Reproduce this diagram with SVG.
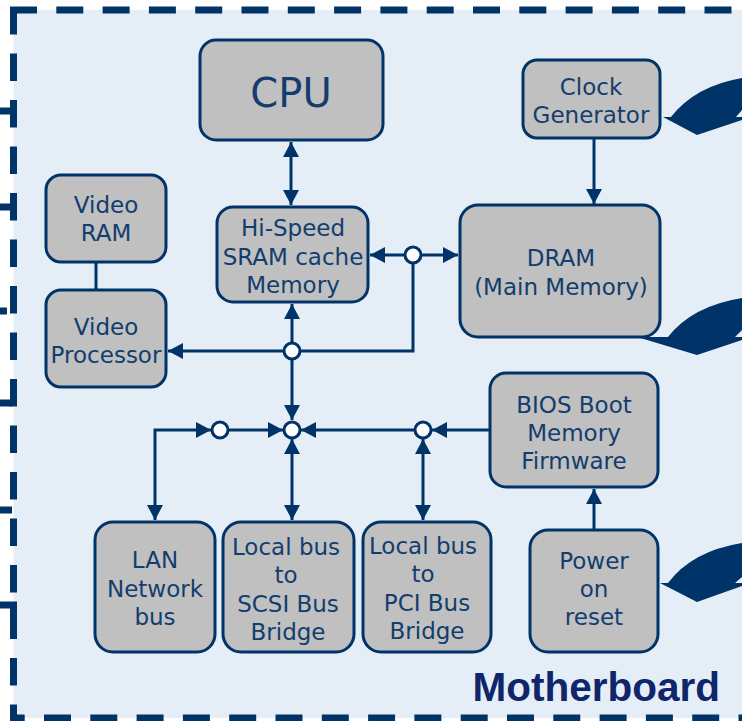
<svg xmlns="http://www.w3.org/2000/svg" width="742" height="721" viewBox="0 0 742 721">
<style>
.node rect{fill:#c0c0c0;stroke:#003468;stroke-width:3}
.node text{font-family:"DejaVu Sans",Verdana,sans-serif;font-size:23px;fill:#123d6e;text-anchor:middle}
.conn path{fill:none;stroke:#003468;stroke-width:3}
.arr{marker-end:url(#ah)}
.arr2{marker-start:url(#ah);marker-end:url(#ah)}
.jn{fill:#fff;stroke:#003468;stroke-width:3}
.swoosh{fill:#003468}
.border{fill:none;stroke:#003468;stroke-width:7}
.tick{stroke:#003468;stroke-width:7;fill:none}
</style>
<defs>
<marker id="ah" viewBox="0 0 15 16" refX="15" refY="8" markerWidth="15" markerHeight="16" orient="auto-start-reverse" markerUnits="userSpaceOnUse">
<path d="M0,0 L15,8 L0,16 z" fill="#003468"/>
</marker>
</defs>
<rect x="0" y="0" width="742" height="721" fill="#ffffff"/>
<g id="frame">
<rect x="13.5" y="10" width="760" height="708" fill="#e5eef7"/>
<path class="border" d="M10,10 H760" stroke-dasharray="27 19.3"/>
<path class="border" d="M13.5,7 V721" stroke-dasharray="27.5 19"/>
<path class="border" d="M10,718 H760" stroke-dasharray="27 19.3" stroke-dashoffset="12.3"/>
<path class="tick" d="M0,111 H14 M0,207 H14 M0,311 H7 M0,403 H12 M0,510 H12"/>
<path class="tick" d="M0,605 H13.5 V620" stroke-linejoin="miter"/>
</g>
<g id="swooshes">
<path class="swoosh" d="M663,117 L671,117 Q695,86 742,78 L742,110 L736,117 L742,117 L742,120 L697,135 Z"/>
<path class="swoosh" d="M637,337 L668,337 Q692,306 742,298 L742,330 L735,337 L742,337 L742,340 L697,355 Z"/>
<path class="swoosh" d="M660,583 L668,583 Q692,551 742,543 L742,577 L735,583 L742,583 L742,586 L697,602 Z"/>
</g>
<g id="connectors" class="conn">
<path class="arr2" d="M291,142 L291,205"/>
<path class="arr" d="M594,139 L594,204"/>
<path d="M96,262 L96,290"/>
<path class="arr" d="M405,255 L370,255"/>
<path class="arr" d="M421,255 L458,255"/>
<path d="M413,263 L413,351 L300,351"/>
<path class="arr" d="M284,351 L168,351"/>
<path class="arr" d="M292,343 L292,304"/>
<path class="arr" d="M292,359 L292,420"/>
<path class="arr2" d="M211,430 L155,430 L155,520"/>
<path class="arr" d="M229,430 L283,430"/>
<path class="arr2" d="M292,439 L292,520"/>
<path class="arr" d="M414,430 L301,430"/>
<path class="arr" d="M489,430 L432,430"/>
<path class="arr2" d="M423,439 L423,520"/>
<path class="arr" d="M594,529 L594,489"/>
<circle class="jn" cx="413" cy="255" r="8"/>
<circle class="jn" cx="292" cy="351" r="8"/>
<circle class="jn" cx="220" cy="430" r="8"/>
<circle class="jn" cx="292" cy="430" r="8"/>
<circle class="jn" cx="423" cy="430" r="8"/>
</g>
<g id="cpu" class="node"><rect x="200" y="40" width="183" height="100" rx="16"/><text x="291" y="107" style="font-size:40px">CPU</text></g>
<g id="clock" class="node"><rect x="523" y="60" width="137" height="78" rx="14"/><text x="591" y="95">Clock</text><text x="591" y="123">Generator</text></g>
<g id="vram" class="node"><rect x="46" y="175" width="120" height="87" rx="15"/><text x="106" y="213">Video</text><text x="106" y="241">RAM</text></g>
<g id="sram" class="node"><rect x="217" y="207" width="151" height="95" rx="16"/><text x="293" y="236">Hi-Speed</text><text x="293" y="265">SRAM cache</text><text x="293" y="293">Memory</text></g>
<g id="dram" class="node"><rect x="460" y="205" width="200" height="132" rx="18"/><text x="561" y="266">DRAM</text><text x="561" y="295">(Main Memory)</text></g>
<g id="vproc" class="node"><rect x="46" y="290" width="120" height="97" rx="15"/><text x="106" y="335">Video</text><text x="106" y="363">Processor</text></g>
<g id="bios" class="node"><rect x="490" y="373" width="168" height="114" rx="16"/><text x="574" y="413">BIOS Boot</text><text x="574" y="441">Memory</text><text x="574" y="469">Firmware</text></g>
<g id="lan" class="node"><rect x="95" y="522" width="120" height="130" rx="18"/><text x="155" y="568">LAN</text><text x="155" y="597">Network</text><text x="155" y="625">bus</text></g>
<g id="scsi" class="node"><rect x="223" y="522" width="131" height="130" rx="18"/><text x="286" y="555">Local bus</text><text x="286" y="583">to</text><text x="288" y="612">SCSI Bus</text><text x="288" y="640">Bridge</text></g>
<g id="pci" class="node"><rect x="363" y="522" width="128" height="130" rx="18"/><text x="423" y="554">Local bus</text><text x="423" y="582">to</text><text x="427" y="611">PCI Bus</text><text x="427" y="639">Bridge</text></g>
<g id="power" class="node"><rect x="530" y="530" width="128" height="122" rx="18"/><text x="594" y="569">Power</text><text x="594" y="597">on</text><text x="594" y="625">reset</text></g>
<text x="720" y="701" text-anchor="end" style="font-family:'Liberation Sans',Arial,sans-serif;font-weight:bold;font-size:40.5px;fill:#10266a">Motherboard</text>
</svg>
